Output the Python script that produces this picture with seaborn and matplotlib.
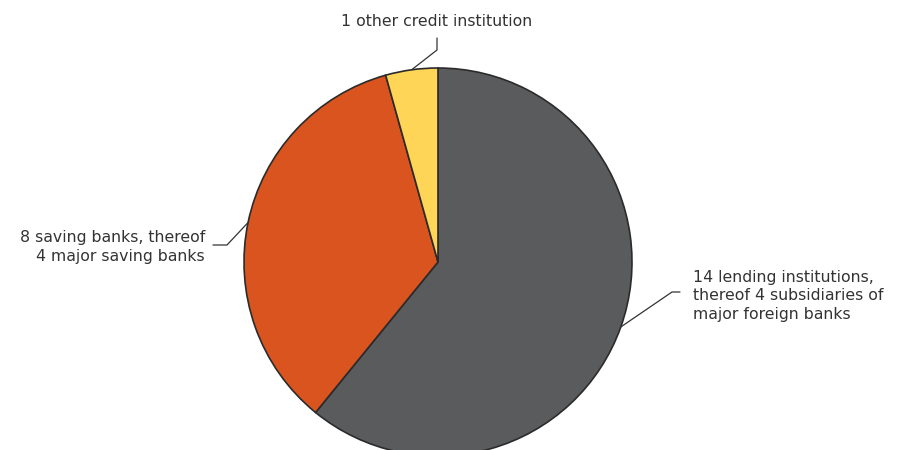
import numpy as np
import matplotlib
matplotlib.use("Agg")
import matplotlib.pyplot as plt
import seaborn as sns

categories = ["14 lending institutions,\nthereof 4 subsidiaries of\nmajor foreign banks",
              "8 saving banks, thereof\n4 major saving banks",
              "1 other credit institution"]
values = [14, 8, 1]
colors = ["#5a5b5d", "#d9541e", "#ffd557"]

sns.set_theme(style="white")
plt.rcParams['font.family'] = ['DejaVu Sans']

W, H = 902, 450
CX, CY, R = 438, 262, 194

fig = plt.figure(figsize=(W / 100, H / 100), dpi=100)
ax = fig.add_axes([0, 0, 1, 1])

wedges, _ = ax.pie(values, colors=colors, startangle=90, counterclock=False,
                   radius=1, center=(0, 0), frame=True,
                   wedgeprops=dict(edgecolor="#2b2b2b", linewidth=1.2))
ax.set_xlim(-CX / R, (W - CX) / R)
ax.set_ylim(-(H - CY) / R, CY / R)
ax.set_aspect("auto")
ax.axis("off")


def px(x, y):
    return ((x - CX) / R, (CY - y) / R)


tc = "#333333"
fs = 11.3
ls = 1.28
# leader paths (elbow and end in pixels)
elbows = [((672, 292), (680, 292)), ((227, 245), (213, 245)), ((437, 50), (437, 38))]
for w, (e1, e2) in zip(wedges, elbows):
    ang = np.deg2rad((w.theta1 + w.theta2) / 2)
    p0 = (np.cos(ang), np.sin(ang))
    p1 = px(*e1)
    p2 = px(*e2)
    ax.plot([p0[0], p1[0], p2[0]], [p0[1], p1[1], p2[1]], color="#333333", lw=0.9)

x, y = px(693, 296)
ax.text(x, y, categories[0], ha="left", va="center", fontsize=fs, color=tc, linespacing=ls)
x, y = px(205, 247)
ax.text(x, y, categories[1], ha="right", va="center", fontsize=fs, color=tc, linespacing=ls, multialignment="right")
x, y = px(437, 21)
ax.text(x, y, categories[2], ha="center", va="center", fontsize=fs, color=tc)

fig.savefig("out.png", dpi=100, facecolor="white")
